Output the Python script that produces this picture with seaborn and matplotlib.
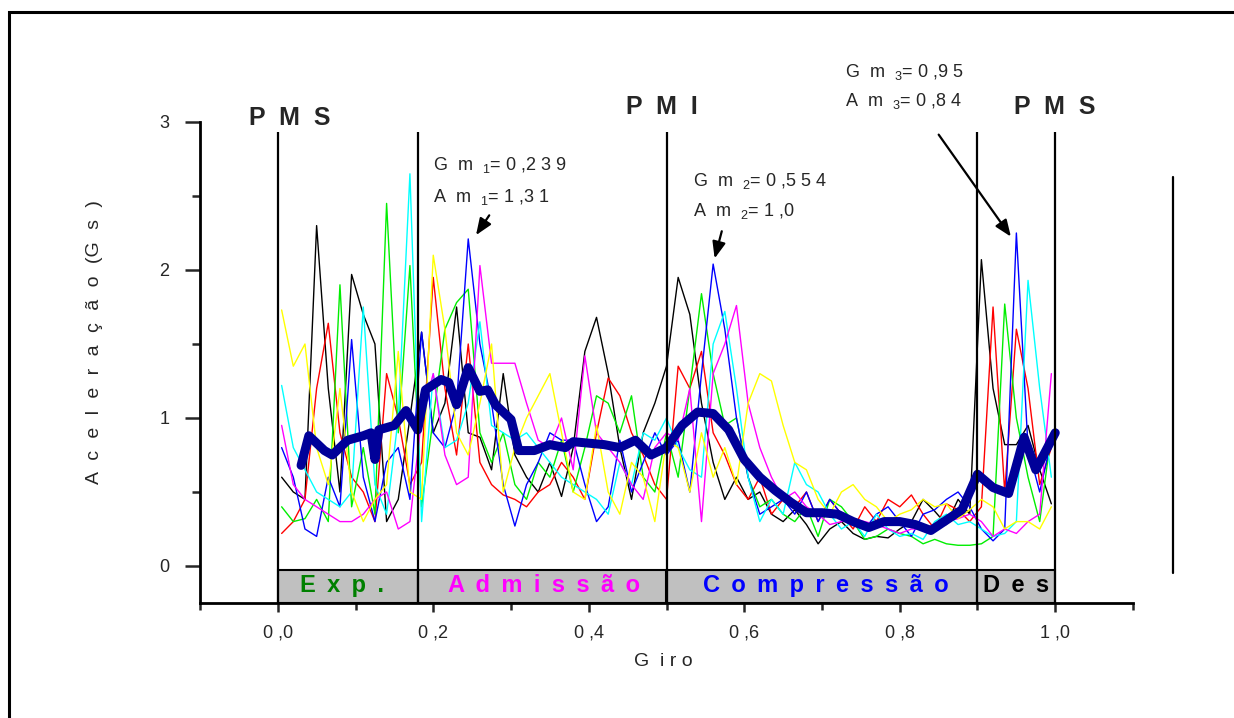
import numpy as np
import pandas as pd
import matplotlib
matplotlib.use("Agg")
import matplotlib.pyplot as plt
from matplotlib.patches import Rectangle
from matplotlib.lines import Line2D
import seaborn as sns

# ---------------- data ----------------
x_grid = np.round(np.linspace(0.005, 0.995, 67), 4)

black = [0.6, 0.5, 0.45, 2.3, 1.2, 0.5, 1.97, 1.7, 1.5, 0.3, 0.45, 1.0,
         1.58, 0.9, 1.1, 1.75, 0.9, 0.87, 0.65, 1.3, 0.75, 0.6, 0.5, 0.7, 0.47, 0.8, 1.45, 1.68, 1.3, 0.8, 0.45, 0.9, 1.1,
         1.35,
         1.95, 1.7, 1.1, 0.7, 0.45, 0.6, 0.45, 0.5, 0.35, 0.3, 0.38, 0.28, 0.15, 0.25, 0.3, 0.22, 0.18, 0.2, 0.19, 0.25, 0.3, 0.45, 0.37, 0.28, 0.45, 0.35,
         2.07, 1.2, 0.82, 0.82, 0.95, 0.65, 0.42]
red = [0.22, 0.3, 0.45, 1.2, 1.64, 0.9, 0.6, 0.5, 0.3, 1.3, 1.0, 0.55,
       0.7, 1.95, 1.2, 0.75, 1.5, 0.7, 0.55, 0.48, 0.45, 0.4, 0.5, 0.55, 0.7, 0.6, 0.45, 0.9, 1.27, 1.15, 0.9, 0.75, 0.55,
       0.45,
       1.35, 1.2, 1.45, 0.9, 0.75, 0.55, 0.45, 0.6, 0.35, 0.45, 0.4, 0.5, 0.3, 0.45, 0.35, 0.25, 0.4, 0.3, 0.45, 0.4, 0.48, 0.35, 0.25, 0.42, 0.38, 0.3,
       0.4, 1.75, 0.5, 1.6, 1.2, 0.55, 0.8]
green = [0.4, 0.3, 0.32, 0.45, 0.3, 1.9, 0.4, 0.8, 0.35, 2.45, 0.9, 2.03,
         0.4, 1.0, 1.6, 1.78, 1.87, 0.9, 0.7, 0.9, 0.55, 0.45, 0.7, 0.6, 0.85, 0.5, 0.8, 1.15, 1.1, 0.9, 1.15, 0.6, 0.5,
         0.9,
         0.6, 1.2, 1.84, 1.3, 0.95, 1.0, 0.6, 0.4, 0.45, 0.35, 0.3, 0.4, 0.2, 0.45, 0.4, 0.3, 0.18, 0.2, 0.25, 0.22, 0.2, 0.15, 0.18, 0.15, 0.14, 0.14,
         0.15, 0.2, 1.77, 1.0, 0.6, 0.3, 0.9]
blue = [0.8, 0.6, 0.25, 0.2, 0.6, 0.4, 1.53, 0.6, 0.3, 0.7, 0.8, 0.45,
        1.58, 0.9, 0.8, 1.1, 2.21, 1.5, 1.1, 0.55, 0.27, 0.55, 0.7, 0.9, 0.85, 0.85, 0.55, 0.3, 0.4, 0.85, 0.5, 0.7, 0.9,
        0.75,
        0.85, 0.5, 1.3, 2.04, 1.6, 1.0, 0.6, 0.35, 0.4, 0.45, 0.35, 0.5, 0.3, 0.45, 0.35, 0.3, 0.25, 0.35, 0.4, 0.3, 0.2, 0.35, 0.38, 0.45, 0.5, 0.4,
        0.25, 0.17, 0.25, 2.25, 0.8, 0.5, 0.85]
cyan = [1.22, 0.8, 0.65, 0.5, 0.45, 0.4, 0.5, 1.75, 0.55, 0.35, 1.0, 2.65,
        0.3, 1.3, 0.8, 0.85, 1.1, 1.65, 0.95, 0.9, 0.85, 0.9, 0.8, 0.7, 0.6, 0.55, 0.5, 0.45, 0.35, 0.7, 0.55, 0.9, 0.85,
        1.0,
        0.8, 0.65, 0.6, 1.5, 1.72, 1.2, 0.6, 0.3, 0.45, 0.35, 0.7, 0.55, 0.5, 0.35, 0.25, 0.3, 0.2, 0.35, 0.25, 0.2, 0.22, 0.18, 0.3, 0.35, 0.28, 0.3,
        0.25, 0.2, 0.22, 0.3, 1.93, 1.2, 0.6]
magenta = [0.95, 0.55, 0.45, 0.4, 0.35, 0.3, 0.3, 0.35, 0.45, 0.5, 0.25, 0.3,
           1.0, 1.3, 0.75, 0.55, 0.6, 2.03, 1.37, 1.37, 1.37, 1.1, 0.85, 0.8, 1.0, 0.65, 1.42, 0.9, 0.8, 0.7, 0.55, 0.45, 0.8,
           0.9,
           0.85, 1.2, 0.3, 1.3, 1.5, 1.76, 1.1, 0.8, 0.6, 0.45, 0.5, 0.4, 0.35, 0.28, 0.3, 0.32, 0.3, 0.28, 0.25, 0.22, 0.25, 0.25, 0.28, 0.3, 0.32, 0.35,
           0.3, 0.2, 0.25, 0.22, 0.3, 0.35, 1.3]
yellow = [1.73, 1.35, 1.5, 0.8, 0.55, 1.2, 0.5, 0.3, 0.45, 0.55, 1.45, 0.5,
          0.45, 2.1, 1.6, 0.9, 0.75, 1.1, 1.5, 0.5, 0.8, 1.0, 1.15, 1.3, 0.9, 0.5, 0.45, 0.95, 0.5, 0.35, 0.7, 0.6, 0.3,
          0.85,
          0.8, 0.5, 0.9, 0.6, 0.8, 0.55, 1.1, 1.3, 1.25, 0.95, 0.7, 0.65, 0.45, 0.35, 0.5, 0.55, 0.45, 0.4, 0.3, 0.35, 0.38, 0.45, 0.4, 0.42, 0.32, 0.38,
          0.45, 0.4, 0.25, 0.3, 0.3, 0.25, 0.4]

mean_x = [0.03, 0.04, 0.06, 0.07, 0.09, 0.11, 0.12, 0.125, 0.13, 0.15, 0.165, 0.18, 0.19, 0.21, 0.22, 0.23,
          0.245, 0.26, 0.27, 0.28, 0.30, 0.31, 0.33, 0.35, 0.37, 0.38, 0.40, 0.42, 0.44, 0.46, 0.48, 0.50,
          0.52, 0.54, 0.56, 0.58, 0.60, 0.62, 0.64, 0.66, 0.68, 0.70, 0.72, 0.74, 0.76, 0.78, 0.80, 0.82,
          0.84, 0.86, 0.88, 0.90, 0.92, 0.94, 0.96, 0.975, 1.0]
mean_y = [0.68, 0.88, 0.78, 0.75, 0.85, 0.88, 0.9, 0.72, 0.92, 0.95, 1.05, 0.92, 1.19, 1.26, 1.24, 1.09,
          1.34, 1.18, 1.19, 1.09, 0.99, 0.78, 0.78, 0.82, 0.8, 0.84, 0.83, 0.82, 0.8, 0.85, 0.75, 0.8,
          0.95, 1.04, 1.03, 0.92, 0.72, 0.6, 0.51, 0.43, 0.36, 0.36, 0.35, 0.3, 0.26, 0.3, 0.3, 0.28,
          0.24, 0.31, 0.38, 0.62, 0.53, 0.49, 0.87, 0.65, 0.9]

series_names = ["black", "red", "green", "blue", "cyan", "magenta", "yellow"]
series_colors = ["#000000", "#ff0000", "#00ee00", "#0000ff", "#00ffff", "#ff00ff", "#ffff00"]
series_values = [black, red, green, blue, cyan, magenta, yellow]

SP = " \u2009"  # wide letter spacing
phase_start = [0.0, 0.18, 0.5, 0.9]
phase_end = [0.18, 0.5, 0.9, 1.0]
phase_labels = [SP.join("Exp."), SP.join("Admissão"), SP.join("Compressão"), SP.join("Des")]
phase_colors = ["#008000", "#ff00ff", "#0000ff", "#000000"]
phase_label_x = [0.083, 0.343, 0.705, 0.949]
boundaries = [0.0, 0.18, 0.5, 0.9, 1.0]

top_labels = ["P  M  S", "P  M  I", "P  M  S"]
top_label_x = [0.015, 0.494, 1.0]
top_label_y = [3.03, 3.10, 3.10]

x_ticks = [0.0, 0.2, 0.4, 0.6, 0.8, 1.0]
x_tick_labels = ["0 ,0", "0 ,2", "0 ,4", "0 ,6", "0 ,8", "1 ,0"]
y_ticks = [0, 1, 2, 3]
y_tick_labels = ["0", "1", "2", "3"]

y_title = "  \u200a".join(["A", "c", "e", "l", "e", "r", "a", "ç", "ã", "o", "(G", "s", ")"])

# ---------------- style ----------------
sns.set_style("white")
plt.rcParams["font.family"] = ["Liberation Sans", "DejaVu Sans"]
plt.rcParams["mathtext.fontset"] = "custom"
plt.rcParams["mathtext.rm"] = "Liberation Sans"
plt.rcParams["mathtext.it"] = "Liberation Sans"

W, H = 1234, 718
fig = plt.figure(figsize=(W / 100, H / 100), dpi=100)
fig.patch.set_facecolor("white")
ax = fig.add_axes([200 / W, 1 - 603 / H, 933 / W, 481 / H])
ax.set_facecolor("white")

# thin series
long = pd.DataFrame({
    "giro": np.tile(x_grid, len(series_names)),
    "acel": np.concatenate([np.asarray(v, float) for v in series_values]),
    "serie": np.repeat(series_names, len(x_grid)),
})
sns.lineplot(data=long, x="giro", y="acel", hue="serie", palette=dict(zip(series_names, series_colors)),
             hue_order=series_names, linewidth=1.0, legend=False, ax=ax, estimator=None, sort=False, zorder=3)

# mean thick line
mean_df = pd.DataFrame({"giro": mean_x, "acel": mean_y})
sns.lineplot(data=mean_df, x="giro", y="acel", color="#000099", linewidth=6.5, ax=ax,
             estimator=None, sort=False, legend=False, zorder=5, solid_joinstyle="round", solid_capstyle="round")

# phase band
widths = [e - s for s, e in zip(phase_start, phase_end)]
ax.bar(phase_start, [0.22] * 4, width=widths, bottom=-0.25, align="edge",
       color="#c0c0c0", edgecolor="black", linewidth=1.5, zorder=6)
for lab, lx, col in zip(phase_labels, phase_label_x, phase_colors):
    ax.text(lx, -0.135, lab, color=col, fontsize=17, fontweight="bold", ha="center", va="center", zorder=7)

# vertical boundaries
ax.vlines(boundaries, -0.25, 2.93, colors="black", linewidth=1.6, zorder=6)

# top labels
for lab, lx, ly in zip(top_labels, top_label_x, top_label_y):
    ax.text(lx, ly, lab, fontsize=18, fontweight="bold", ha="center", va="center", clip_on=False)

# annotations
ann_fs = 13
ax.text(0.200, 2.71, r"G  m  $_{1}$= 0 ,2 3 9", fontsize=ann_fs, ha="left", va="center")
ax.text(0.200, 2.49, r"A  m  $_{1}$= 1 ,3 1", fontsize=ann_fs, ha="left", va="center")
ax.text(0.534, 2.60, r"G  m  $_{2}$= 0 ,5 5 4", fontsize=ann_fs, ha="left", va="center")
ax.text(0.534, 2.40, r"A  m  $_{2}$= 1 ,0", fontsize=ann_fs, ha="left", va="center")
ax.text(0.730, 3.34, r"G  m  $_{3}$= 0 ,9 5", fontsize=ann_fs, ha="left", va="center", clip_on=False)
ax.text(0.730, 3.14, r"A  m  $_{3}$= 0 ,8 4", fontsize=ann_fs, ha="left", va="center", clip_on=False)
arrow_kw = dict(arrowstyle="-|>,head_length=1.0,head_width=0.4", color="black", lw=1.6)
ax.annotate("", xy=(0.253, 2.22), xytext=(0.274, 2.385), arrowprops=arrow_kw, annotation_clip=False)
ax.annotate("", xy=(0.561, 2.06), xytext=(0.572, 2.28), arrowprops=arrow_kw, annotation_clip=False)
ax.annotate("", xy=(0.945, 2.21), xytext=(0.848, 2.93), arrowprops=arrow_kw, annotation_clip=False)

# axes
ax.set_xlim(-0.1, 1.1)
ax.set_ylim(-0.25, 3.0)
for side in ["top", "right"]:
    ax.spines[side].set_visible(False)
for side in ["left", "bottom"]:
    ax.spines[side].set_linewidth(2.0)
    ax.spines[side].set_color("black")
ax.set_xticks(x_ticks)
ax.set_xticklabels(x_tick_labels, fontsize=13)
ax.set_xticks(np.arange(-0.1, 1.11, 0.1), minor=True)
ax.set_yticks(y_ticks)
ax.set_yticklabels(y_tick_labels, fontsize=13)
ax.set_yticks(np.arange(0.5, 3.0, 1.0), minor=True)
ax.tick_params(axis="y", which="major", direction="out", length=11, width=1.8, pad=11, left=True)
ax.tick_params(axis="y", which="minor", direction="out", length=5.5, width=1.8, left=True)
ax.tick_params(axis="x", which="major", direction="out", length=6.5, width=1.8, pad=9, bottom=True)
ax.tick_params(axis="x", which="minor", direction="out", length=5, width=1.8, bottom=True)
ax.set_xlabel("")
ax.set_ylabel("")

fig.text(663 / W, 1 - 662 / H, "G  i r o", fontsize=14, ha="center", va="center")
fig.text(95 / W, 1 - 342 / H, y_title, fontsize=14, ha="center", va="center", rotation=90)

# frame and right line
fig.add_artist(Rectangle((9 / W, -0.2), 1.5, 1.2 - 12 / H, transform=fig.transFigure,
                         fill=False, edgecolor="black", linewidth=2.2))
fig.add_artist(Line2D([1173 / W, 1173 / W], [1 - 177 / H, 1 - 573 / H], transform=fig.transFigure,
                      color="black", linewidth=1.6))

fig.savefig("out.png", dpi=100, facecolor="white")
